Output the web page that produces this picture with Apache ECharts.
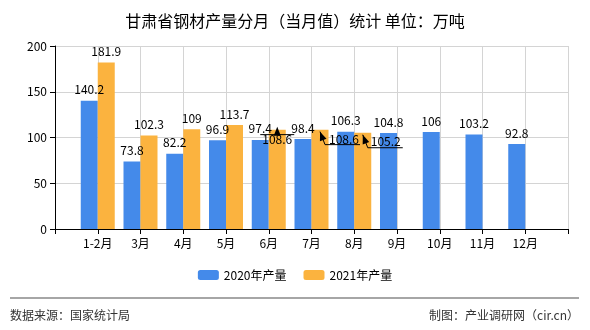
<!DOCTYPE html>
<html><head><meta charset="utf-8">
<script src="https://cdn.jsdelivr.net/npm/echarts@6/dist/echarts.min.js"></script>
<style>html,body{margin:0;padding:0;background:#fff}#c{width:590px;height:330px}</style>
</head><body><div id="c"></div>
<script>
var categories = ['1-2月','3月','4月','5月','6月','7月','8月','9月','10月','11月','12月'];
var values2020 = [140.2, 73.8, 82.2, 96.9, 97.4, 98.4, 106.3, 104.8, 106, 103.2, 92.8];
var values2021 = [181.9, 102.3, 109, 113.7, 108.6, 108.6, 105.2];
var yTicks = [0, 50, 100, 150, 200];

var FONT = '"Noto Sans CJK SC", sans-serif';
var cats = [''].concat(categories).concat(['']);
function pad(a){ var r=['-'].concat(a); while(r.length<cats.length) r.push('-'); return r; }

var chart = echarts.init(document.getElementById('c'), null, {renderer:'canvas'});
var moved = {5:[0,21],6:[24,21],7:[23,20]};
var baseGraphic = [
  {type:'line', shape:{x1:10,y1:298,x2:579,y2:298}, style:{stroke:'#888', lineWidth:1.5}},
  {type:'text', left:10, top:309, style:{text:'数据来源：国家统计局', fill:'#333', font:'12px '+FONT}},
  {type:'text', right:11, top:309, style:{text:'制图：产业调研网（cir.cn）', fill:'#333', font:'12px '+FONT}}
];
chart.setOption({
  animation:false,
  textStyle:{fontFamily:FONT},
  title:{text:'甘肃省钢材产量分月（当月值）统计 单位：万吨', left:'center', top:8,
    textStyle:{fontSize:16, fontWeight:'normal', color:'#000', fontFamily:FONT}},
  grid:{left:55, right:22, top:46, bottom:101},
  legend:{bottom:44, left:'center', itemWidth:21, itemHeight:10, itemGap:17,
    textStyle:{fontSize:12, color:'#000', fontFamily:FONT},
    data:['2020年产量','2021年产量']},
  xAxis:{type:'category', data:cats, boundaryGap:false,
    axisLine:{lineStyle:{color:'#000'}},
    axisTick:{show:true, length:5, lineStyle:{color:'#000'}},
    axisLabel:{color:'#000', fontSize:12, margin:8, interval:0},
    splitLine:{show:true, lineStyle:{color:'#d4d4d4'}}},
  yAxis:{type:'value', min:yTicks[0], max:yTicks[yTicks.length-1], interval:50,
    axisLine:{show:true, lineStyle:{color:'#000'}},
    axisTick:{show:true, length:5, lineStyle:{color:'#000'}},
    axisLabel:{color:'#000', fontSize:12, margin:8},
    splitLine:{lineStyle:{color:'#d4d4d4'}}},
  series:[
    {name:'2020年产量', type:'bar', data:pad(values2020), barWidth:17, barGap:'0%',
     itemStyle:{color:'#448AEA'},
     label:{show:true, position:'top', distance:5, color:'#000', fontSize:12, fontFamily:FONT}},
    {name:'2021年产量', type:'bar', data:pad(values2021), barWidth:17, barGap:'0%',
     itemStyle:{color:'#FBB33F'},
     label:{show:true, position:'top', distance:5, color:'#000', fontSize:12, fontFamily:FONT},
     labelLayout:function(p){ var m=moved[p.dataIndex]; return m?{dx:m[0],dy:m[1]}:{}; }}
  ],
  graphic: baseGraphic
});

// leader lines with arrows for the moved labels (positions derived from the axes)
var extra = [];
var d21 = pad(values2021);
function arrow(tx, ty, fx, fy){
  var ang = Math.atan2(ty-fy, tx-fx), L=9, W=3.5;
  var bx = tx - L*Math.cos(ang), by = ty - L*Math.sin(ang);
  var px = -Math.sin(ang)*W, py = Math.cos(ang)*W;
  return {type:'polygon', z:200, shape:{points:[[tx,ty],[bx+px,by+py],[bx-px,by-py]]}, style:{fill:'#000'}};
}
Object.keys(moved).forEach(function(k){
  var i = +k;
  var p = chart.convertToPixel({xAxisIndex:0, yAxisIndex:0}, [i, d21[i]]);
  var cx = p[0] + 8.5, top = p[1];
  if (i === 5) {
    extra.push({type:'line', z:200, shape:{x1:cx-17, y1:top+5, x2:cx+17, y2:top+5}, style:{stroke:'#000', lineWidth:1}});
    extra.push({type:'line', z:200, shape:{x1:cx, y1:top+5, x2:cx, y2:top+1}, style:{stroke:'#000', lineWidth:1}});
    extra.push(arrow(cx, top-3, cx, top+5));
  } else {
    var tipx = cx, tipy = top+2, kx = cx+5, ky = top+15;
    extra.push({type:'polyline', z:200, shape:{points:[[tipx,tipy],[kx,ky],[kx+35,ky]]}, style:{stroke:'#000', lineWidth:1, fill:null}});
    extra.push(arrow(tipx, tipy, kx, ky));
  }
});
chart.setOption({graphic: baseGraphic.concat(extra)}, {replaceMerge:['graphic']});
</script></body></html>
